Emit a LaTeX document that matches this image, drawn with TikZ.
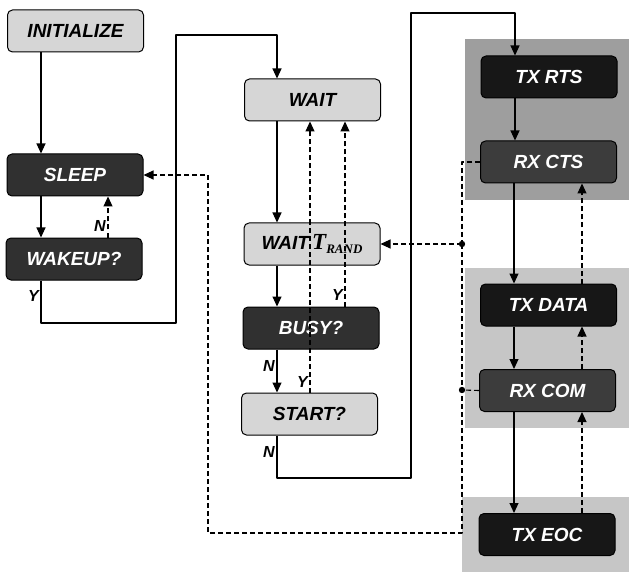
\documentclass[tikz,border=0pt]{standalone}
\usepackage{fontspec}
\setsansfont{Liberation Sans}
\newfontfamily\randfont{Liberation Serif}
\usetikzlibrary{arrows.meta}

\definecolor{boxlight}{HTML}{D6D6D6}
\definecolor{boxdark}{HTML}{303030}
\definecolor{boxblack}{HTML}{171717}
\definecolor{boxmid}{HTML}{3C3C3C}
\definecolor{paneldark}{HTML}{9E9E9E}
\definecolor{panellight}{HTML}{C6C6C6}

\newcommand{\boxfont}{\sffamily\bfseries\itshape\fontsize{19}{19}\selectfont}
\newcommand{\ynfont}{\sffamily\bfseries\itshape\fontsize{16}{16}\selectfont}

\begin{document}
\begin{tikzpicture}[
    x = 1pt, y = -1pt,
    line join=round,
    >={Triangle[length=10pt, width=9pt]},
    box/.style = {draw, line width=1pt, rounded corners=5pt, minimum width=136pt, minimum height=42pt, inner sep=0pt, font=\boxfont},
    lightbox/.style = {box, fill=boxlight, text=black},
    darkbox/.style = {box, fill=boxdark, text=white},
    blackbox/.style = {box, fill=boxblack, text=white},
    midbox/.style = {box, fill=boxmid, text=white},
    flow/.style = {line width=1.1pt},
    dashline/.style = {line width=1.1pt, dash pattern=on 5pt off 3pt},
    yn/.style = {font=\ynfont, inner sep=1pt}
]

\useasboundingbox (0, 0) rectangle (629, 572);

\fill[paneldark] (465, 39) rectangle (629, 200);
\fill[panellight] (465, 268) rectangle (629, 428);
\fill[panellight] (462, 497) rectangle (629, 572);

\node[lightbox] (init) at (75.5, 31) {INITIALIZE};
\node[darkbox] (sleep) at (75, 175) {SLEEP};
\node[darkbox] (wakeup) at (74, 259) {WAKEUP?};

\node[lightbox] (wait) at (312.5, 100) {WAIT};
\node[lightbox] (waitr) at (312, 244) {WAIT\,{\randfont\fontsize{23}{23}\selectfont T\raisebox{-0.4ex}{\fontsize{13}{13}\selectfont RAND}}};
\node[darkbox] (busy) at (311, 328) {BUSY?};
\node[lightbox] (start) at (309.5, 414) {START?};

\node[blackbox] (txrts) at (549, 77) {TX RTS};
\node[midbox] (rxcts) at (548.5, 162) {RX CTS};
\node[blackbox] (txdata) at (548.5, 305) {TX DATA};
\node[midbox] (rxcom) at (547.5, 390.5) {RX COM};
\node[blackbox] (txeoc) at (547, 534.5) {TX EOC};

\coordinate (colA) at (41, 0);
\coordinate (colAn) at (108, 0);
\coordinate (colB) at (277, 0);
\coordinate (colBy) at (310, 0);
\coordinate (colBb) at (345, 0);
\coordinate (colC) at (514, 0);
\coordinate (colCd) at (582, 0);

\coordinate (y1) at (41, 323);
\coordinate (y2) at (176, 323);
\coordinate (y3) at (176, 35);
\coordinate (y4) at (277, 35);

\coordinate (n1) at (277, 478);
\coordinate (n2) at (411, 478);
\coordinate (n3) at (411, 13);
\coordinate (n4) at (515, 13);

\coordinate (j1) at (462, 244);
\coordinate (j2) at (462, 390);
\coordinate (d1) at (462, 533);
\coordinate (d2) at (208, 533);
\coordinate (d3) at (208, 175);

\draw[flow, ->] (init.south -| colA) -- (sleep.north -| colA);
\draw[flow, ->] (sleep.south -| colA) -- (wakeup.north -| colA);
\draw[dashline, ->] (wakeup.north -| colAn) -- (sleep.south -| colAn);
\draw[flow, ->] (wakeup.south -| colA) -- (y1) -- (y2) -- (y3) -- (y4) -- (wait.north -| y4);

\draw[flow, ->] (wait.south -| colB) -- (waitr.north -| colB);
\draw[flow, ->] (waitr.south -| colB) -- (busy.north -| colB);
\draw[flow, ->] (busy.south -| colB) -- (start.north -| colB);
\draw[dashline, ->] (start.north -| colBy) -- (wait.south -| colBy);
\draw[dashline, ->] (busy.north -| colBb) -- (wait.south -| colBb);
\draw[flow, ->] (start.south -| n1) -- (n1) -- (n2) -- (n3) -- (n4) -- (txrts.north -| n4);

\draw[flow, ->] (txrts.south -| n4) -- (rxcts.north -| n4);
\draw[flow, ->] (rxcts.south -| colC) -- (txdata.north -| colC);
\draw[flow, ->] (txdata.south -| colC) -- (rxcom.north -| colC);
\draw[flow, ->] (rxcom.south -| colC) -- (txeoc.north -| colC);
\draw[dashline, ->] (txeoc.north -| colCd) -- (rxcom.south -| colCd);
\draw[dashline, ->] (rxcom.north -| colCd) -- (txdata.south -| colCd);
\draw[dashline, ->] (txdata.north -| colCd) -- (rxcts.south -| colCd);

\draw[dashline] (rxcts.west) -| (j1);
\draw[dashline, ->] (j1) -- (waitr.east);
\draw[dashline] (rxcom.west) -- (j2);
\draw[dashline, ->] (j1) -- (j2) -- (d1) -- (d2) -- (d3) -- (sleep.east);
\fill (j1) circle (3.2pt);
\fill (j2) circle (3.2pt);

\node[yn, left] (lblY1) at (40, 296) {Y};
\node[yn, left] (lblN1) at (107, 226) {N};
\node[yn, left] (lblN2) at (276, 366) {N};
\node[yn, left] (lblY2) at (309, 382) {Y};
\node[yn, left] (lblY3) at (344, 295) {Y};
\node[yn, left] (lblN3) at (276, 452) {N};

\end{tikzpicture}
\end{document}
